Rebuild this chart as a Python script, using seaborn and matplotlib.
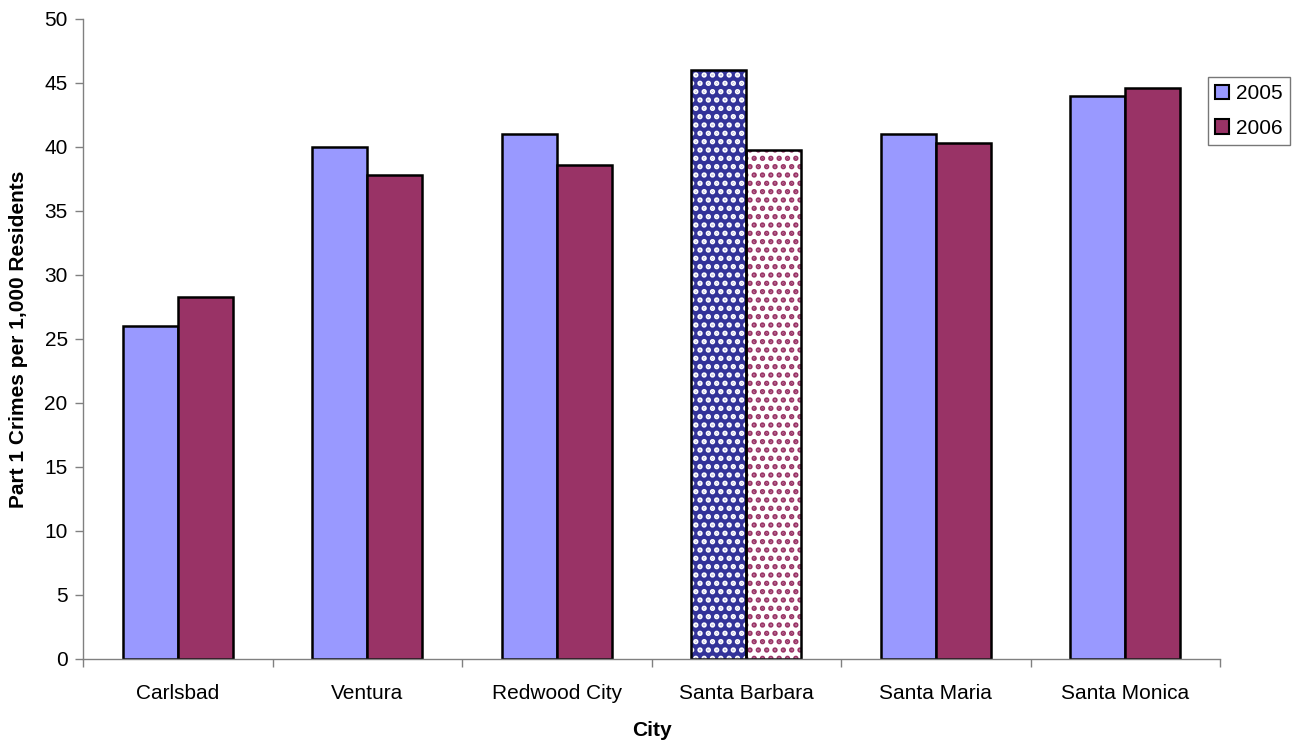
import matplotlib
matplotlib.use("Agg")
import matplotlib.pyplot as plt
import seaborn as sns
import pandas as pd
from matplotlib.patches import Rectangle, Patch

cities = ["Carlsbad", "Ventura", "Redwood City", "Santa Barbara", "Santa Maria", "Santa Monica"]
years = ["2005", "2006"]
values_2005 = [26.0, 40.0, 41.0, 46.0, 41.0, 44.0]
values_2006 = [28.3, 37.8, 38.6, 39.8, 40.3, 44.6]
yticks = [0, 5, 10, 15, 20, 25, 30, 35, 40, 45, 50]

highlight = "Santa Barbara"
colors = {"2005": "#9999FF", "2006": "#993366"}

df = pd.DataFrame({
    "City": cities * 2,
    "Year": ["2005"] * len(cities) + ["2006"] * len(cities),
    "Value": values_2005 + values_2006,
})

sns.set_style("white")
plt.rcParams["font.family"] = ["Liberation Sans", "DejaVu Sans"]
plt.rcParams["hatch.linewidth"] = 2.6
plt.rcParams["text.color"] = "black"
plt.rcParams["axes.labelcolor"] = "black"
plt.rcParams["xtick.color"] = "black"
plt.rcParams["ytick.color"] = "black"

fs = 15

fig = plt.figure(figsize=(12.95, 7.43), dpi=100)
ax = fig.add_axes([83 / 1295, 1 - 659 / 743, (1220 - 83) / 1295, (659 - 19) / 743])

sns.barplot(data=df, x="City", y="Value", hue="Year", order=cities, hue_order=years,
            palette=colors, width=0.58, gap=0, edgecolor="black", linewidth=1.8,
            saturation=1, ax=ax, legend=False)

hi = cities.index(highlight)
n = len(cities)
bar_patches = [p for p in ax.patches if isinstance(p, Rectangle)]
for k, yr in enumerate(years):
    p = bar_patches[k * n + hi]
    if yr == "2005":
        p.set_facecolor("#333399")
        p.set_edgecolor("white")
    else:
        p.set_facecolor("white")
        p.set_edgecolor("#993366")
    p.set_hatch("..")
    p.set_linewidth(0)
    outline = Rectangle(p.get_xy(), p.get_width(), p.get_height(), fill=False,
                        edgecolor="black", linewidth=1.8, zorder=p.get_zorder() + 0.1)
    ax.add_patch(outline)

ax.set_xlim(-0.5, n - 0.5)
ax.set_ylim(0, 50)
ax.set_yticks(yticks)
ax.tick_params(axis="y", labelsize=fs, length=6, width=1, color="#808080",
               labelcolor="black", left=True, pad=5)
ax.set_xticks([i - 0.5 for i in range(n + 1)])
ax.set_xticklabels([])
ax.set_xticks(range(n), minor=True)
ax.set_xticklabels(cities, minor=True)
ax.tick_params(axis="x", which="major", length=6, width=1, color="#808080", bottom=True)
ax.tick_params(axis="x", which="minor", length=0, labelsize=fs, labelcolor="black", pad=18)

for s in ["top", "right"]:
    ax.spines[s].set_visible(False)
for s in ["left", "bottom"]:
    ax.spines[s].set_color("#808080")
    ax.spines[s].set_linewidth(1)

ax.set_ylabel("Part 1 Crimes per 1,000 Residents", fontsize=fs, fontweight="bold",
              labelpad=12, color="black")
ax.set_xlabel("City", fontsize=fs, fontweight="bold", labelpad=13, color="black")

handles = [Patch(facecolor=colors[y], edgecolor="black", linewidth=1.5) for y in years]
leg = fig.legend(handles, years, loc="upper left", bbox_to_anchor=(1208 / 1295, 1 - 77 / 743),
                 fontsize=fs, frameon=True, fancybox=False, edgecolor="#555555",
                 handlelength=0.68, handleheight=0.68, handletextpad=0.3,
                 borderpad=0.35, labelspacing=0.75, borderaxespad=0)
leg.get_frame().set_linewidth(1)

fig.savefig("out.png", dpi=100)
